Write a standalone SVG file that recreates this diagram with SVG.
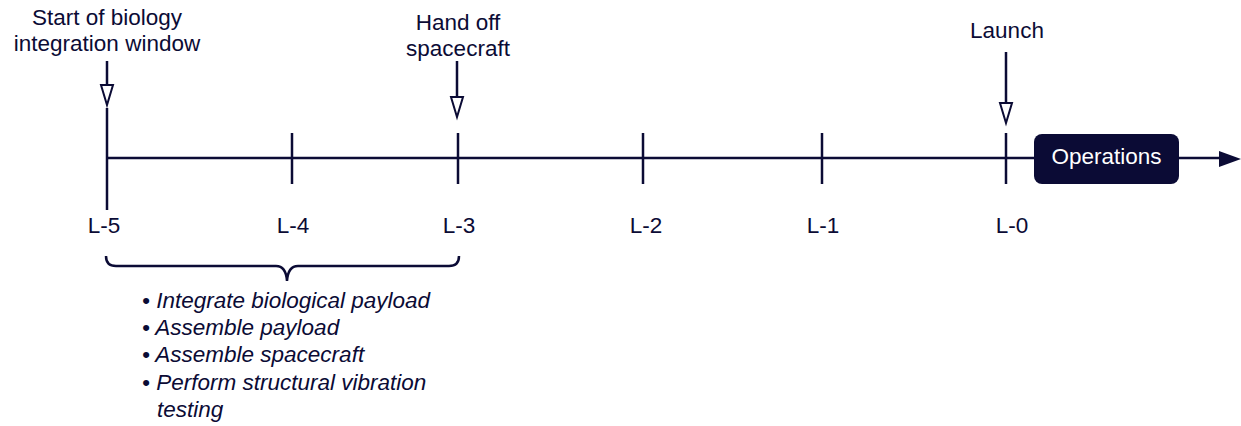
<svg xmlns="http://www.w3.org/2000/svg" width="1241" height="426" viewBox="0 0 1241 426">
<defs>
<style>
.ln{stroke:#0b0b35;stroke-width:2.5;fill:none}
.t{font-family:"Liberation Sans",Arial,sans-serif;font-size:22.5px;fill:#0b0b35}
.it{font-style:italic}
.w{fill:#ffffff}
</style>
</defs>
<rect width="1241" height="426" fill="#ffffff"/>
<g id="connectors">
<line class="ln" x1="107" y1="158" x2="1034" y2="158"/>
<line class="ln" x1="1179" y1="158" x2="1221" y2="158"/>
<path d="M1219,151 L1241,159 L1219,167 Z" fill="#0b0b35"/>
<line class="ln" x1="107" y1="108" x2="107" y2="210"/>
<line class="ln" x1="292" y1="133" x2="292" y2="184"/>
<line class="ln" x1="458" y1="133" x2="458" y2="184"/>
<line class="ln" x1="643" y1="133" x2="643" y2="184"/>
<line class="ln" x1="822" y1="133" x2="822" y2="184"/>
<line class="ln" x1="1006" y1="133" x2="1006" y2="184"/>
<line class="ln" x1="107" y1="61" x2="107" y2="85"/>
<path d="M101,85 L113,85 L107,105 Z" fill="#ffffff" stroke="#0b0b35" stroke-width="2"/>
<line class="ln" x1="457" y1="61" x2="457" y2="97"/>
<path d="M451,97 L463,97 L457,117 Z" fill="#ffffff" stroke="#0b0b35" stroke-width="2"/>
<line class="ln" x1="1006" y1="52" x2="1006" y2="103"/>
<path d="M1000,103 L1012,103 L1006,123 Z" fill="#ffffff" stroke="#0b0b35" stroke-width="2"/>
<path class="ln" d="M106,256 Q106,266 116,266 L276,266 Q286,266 287,281 Q288,266 298,266 L449,266 Q459,266 459,256"/>
</g>
<g id="start-label"><text class="t" x="107" y="25" text-anchor="middle">Start of biology</text><text class="t" x="107" y="51" text-anchor="middle">integration window</text></g>
<g id="handoff-label"><text class="t" x="458" y="30" text-anchor="middle">Hand off</text><text class="t" x="458" y="56" text-anchor="middle">spacecraft</text></g>
<g id="launch-label"><text class="t" x="1007" y="38" text-anchor="middle">Launch</text></g>
<g id="ticks">
<text class="t" x="104" y="233" text-anchor="middle">L-5</text>
<text class="t" x="293" y="233" text-anchor="middle">L-4</text>
<text class="t" x="459" y="233" text-anchor="middle">L-3</text>
<text class="t" x="646" y="233" text-anchor="middle">L-2</text>
<text class="t" x="823" y="233" text-anchor="middle">L-1</text>
<text class="t" x="1012" y="233" text-anchor="middle">L-0</text>
</g>
<g id="operations">
<rect x="1034" y="134" width="145" height="50" rx="8" fill="#0b0b35"/>
<text class="t w" x="1106.5" y="164" text-anchor="middle">Operations</text>
</g>
<g id="tasks">
<text class="t it" x="142" y="308">• Integrate biological payload</text>
<text class="t it" x="142" y="335">• Assemble payload</text>
<text class="t it" x="142" y="362">• Assemble spacecraft</text>
<text class="t it" x="142" y="390">• Perform structural vibration</text>
<text class="t it" x="157" y="417">testing</text>
</g>
</svg>
